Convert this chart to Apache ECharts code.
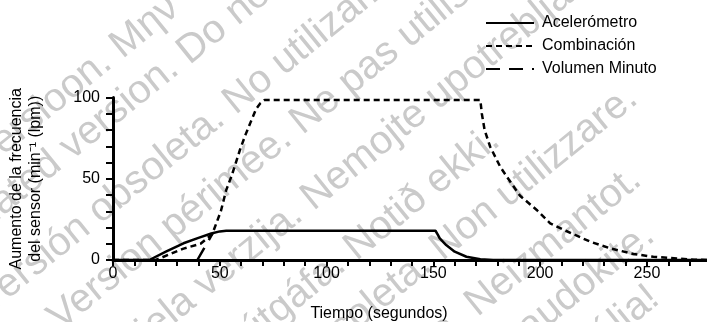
<!DOCTYPE html>
<html><head><meta charset="utf-8">
<script src="https://cdn.jsdelivr.net/npm/echarts@6/dist/echarts.min.js"></script>
<style>html,body{margin:0;padding:0;background:#fff}#c{width:707px;height:322px}</style>
</head><body><div id="c"></div>
<script>
// ---- data ----
const seriesNames = ['Acelerómetro', 'Combinación', 'Volumen Minuto'];

const acelT = [0, 17, 25, 33, 40, 46, 50, 53, 151, 152, 153, 156, 160, 165.5, 172, 178, 280];
const acelV = [0, 0, 5.3, 10.3, 13.6, 16.3, 17.6, 18, 18, 15.8, 13.3, 9.2, 5.1, 2, 0.4, 0, 0];

const combT = [0, 20, 33, 41, 46.5, 48.5, 50.5, 53, 55.6, 59.5, 62, 64.5, 67, 69, 71, 172, 172.7, 174, 176.6, 181.3, 184.4, 190.6, 198.4, 204.7, 212, 223.4, 232.8, 243.7, 253, 264, 272, 280];
const combV = [0, 0, 7, 10, 16, 23, 30, 43, 52, 68, 77, 85, 93, 96.5, 98.5, 98.5, 90, 80, 69.7, 57.4, 51.3, 39.5, 30.8, 22.6, 18, 11.3, 7.2, 3.7, 2, 1, 0.2, 0];

const volT = [39.5, 46.5];
const volV = [0, 16];

const xLabelStep = 50;
const yLabelStep = 50;
const xName = 'Tiempo (segundos)';
const yName = 'Aumento de la frecuencia\ndel sensor (min⁻¹ (lpm))';

// watermark lines: [text, anchor word, anchor x, anchor y]
const watermark = [
  ['Aegunud versioon. Μην τη χρησιμοποιείτε.', 'Μην', 123, 60],
  ['Outdated version. Do not use.', 'Do', 190, 66],
  ['Versión obsoleta. No utilizar.', 'No', 236, 116],
  ['Version périmée. Ne pas utiliser.', 'Ne', 303, 136],
  ['Zastarjela verzija. Nemojte upotrebljavati.', 'Nemojte', 314, 212],
  ['Úrelt útgáfa. Notið ekki.', 'Notið', 357, 262],
  ['Versione obsoleta. Non utilizzare.', 'Non', 443, 262],
  ['Novecojusi versija. Neizmantot.', 'Neizmantot', 478, 318],
  ['Pasenusi versija. Nenaudokite.', 'udokite', 548, 328],
  ['Elavult verzió. Ne használja!', 'lja!', 622, 335]
];

const zip = (a, b) => a.map((t, i) => [t, b[i]]);
const F = '"Liberation Sans", Arial, Helvetica, sans-serif';

// watermark graphics
const ang = 39 * Math.PI / 180;
const cv = document.createElement('canvas').getContext('2d');
const wmFont = '40px "Liberation Sans", Arial, sans-serif';
cv.font = wmFont;
const graphics = watermark.map(([txt, word, ax, ay]) => {
  const pre = txt.slice(0, txt.indexOf(word));
  const w = cv.measureText(pre).width;
  const bx = ax - w * Math.cos(ang) + 8 * Math.sin(ang);
  const by = ay + w * Math.sin(ang) + 8 * Math.cos(ang);
  return {
    type: 'text', x: bx, y: by, rotation: ang, z: -10, silent: true,
    style: { text: txt, font: wmFont, fill: '#cacaca', align: 'left', verticalAlign: 'bottom',
             textAlign: 'left', textVerticalAlign: 'bottom' }
  };
});

const chart = echarts.init(document.getElementById('c'), null, { renderer: 'canvas' });
const line = (name, t, v, type, width) => ({
  name, type: 'line', data: zip(t, v), symbol: 'none', showSymbol: false, smooth: false, z: 5,
  lineStyle: { color: '#000', width, type, cap: 'butt' },
  itemStyle: { color: '#000', opacity: 0 }
});

chart.setOption({
  backgroundColor: '#fff',
  animation: false,
  graphic: graphics,
  grid: { left: 113, right: -4, top: 97.5, bottom: 62, containLabel: false, outerBoundsMode: 'none' },
  legend: {
    orient: 'vertical', left: 480, top: 10, itemWidth: 48, itemHeight: 14, itemGap: 7,
    data: seriesNames,
    itemStyle: { opacity: 0 },
    textStyle: { fontSize: 16, color: '#000', fontFamily: F, padding: [0, 0, 0, 3] }
  },
  xAxis: {
    type: 'value', min: 0, max: 280, interval: 10,
    name: xName, nameLocation: 'middle', nameGap: 46,
    nameTextStyle: { fontSize: 16, color: '#000', fontFamily: F, padding: [0, 66, 0, 0] },
    axisLine: { show: true, onZero: false, lineStyle: { color: '#000', width: 3 } },
    axisTick: { show: true, inside: false, length: 6, lineStyle: { color: '#000', width: 2 } },
    axisLabel: { fontSize: 16, color: '#000', fontFamily: F, margin: 6,
      formatter: v => (v % xLabelStep === 0 ? String(v) : '') },
    splitLine: { show: false }
  },
  yAxis: {
    type: 'value', min: 0, max: 100, interval: 10,
    name: yName, nameLocation: 'middle', nameGap: 68, nameRotate: 90,
    nameTextStyle: { fontSize: 16, color: '#000', fontFamily: F, lineHeight: 19, align: 'center' },
    axisLine: { show: true, onZero: false, lineStyle: { color: '#000', width: 3 } },
    axisTick: { show: true, inside: false, length: 7, lineStyle: { color: '#000', width: 2 } },
    axisLabel: { fontSize: 16, color: '#000', fontFamily: F, margin: 13,
      formatter: v => (v % yLabelStep === 0 ? String(v) : '') },
    splitLine: { show: false }
  },
  series: [
    line(seriesNames[0], acelT, acelV, 'solid', 2.5),
    line(seriesNames[1], combT, combV, [6, 4], 2.5),
    line(seriesNames[2], volT, volV, [14, 9], 2.5)
  ]
});
</script>
</body></html>
